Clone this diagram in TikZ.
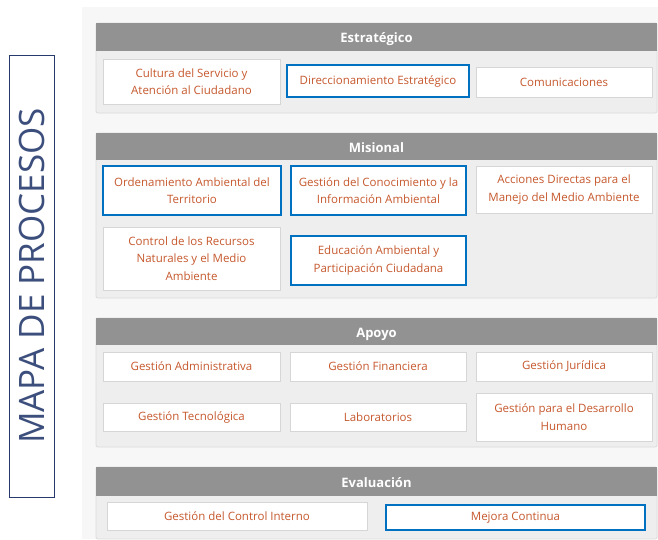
\documentclass[tikz,border=0pt]{standalone}
\usepackage{fontspec}
\setmainfont{Open Sans}
\usetikzlibrary{positioning}
\definecolor{procorange}{RGB}{198,88,45}
\definecolor{procblue}{RGB}{0,112,192}
\definecolor{headgray}{RGB}{146,146,146}
\definecolor{bodygray}{RGB}{238,238,238}
\definecolor{panelgray}{RGB}{247,247,247}
\definecolor{titlenavy}{RGB}{38,58,110}
\tikzset{
  pbox/.style={rectangle, draw=black!16, fill=white, line width=0.8pt,
               text=procorange, align=center, inner sep=1pt,
               font=\fontsize{11.5}{17.5}\selectfont},
  pboxsel/.style={pbox, draw=procblue, line width=2pt},
  grpbody/.style={rectangle, draw=black!14, fill=bodygray, line width=0.8pt,
                  rounded corners=2pt, minimum width=561},
  grphead/.style={rectangle, fill=headgray, text=white, minimum width=561,
                  minimum height=28, inner sep=0pt, text height=12pt,
                  text depth=0pt, font=\fontsize{13}{15}\selectfont\bfseries},
  maptitle/.style={rectangle, draw=titlenavy, line width=1pt, text=titlenavy,
                   minimum width=45, minimum height=442, inner sep=0pt},
}
\begin{document}
\begin{tikzpicture}[x=1pt, y=-1pt]
\useasboundingbox (0,0) rectangle (658,539);
\fill[panelgray] (82,7) rectangle (658,539);
% title
\node[maptitle] (mapa) at (31.5,276) {};
\node[rotate=90, text=titlenavy!90, font=\fontsize{35}{36}\selectfont]
  (mapatxt) at (mapa.center) {MAPA DE PROCESOS};
% groups
\node[grpbody, minimum height=90] (estr) at (376.5,68) {};
\node[grphead, anchor=north] (estrh) at (estr.north) {Estratégico};
\node[grpbody, minimum height=165] (misi) at (376.5,215.5) {};
\node[grphead, anchor=north, minimum height=27] (misih) at (misi.north) {Misional};
\node[grpbody, minimum height=129] (apoy) at (376.5,382.5) {};
\node[grphead, anchor=north, minimum height=27] (apoyh) at (apoy.north) {Apoyo};
\node[grpbody, minimum height=72] (eval) at (376.5,503) {};
\node[grphead, anchor=north, minimum height=29] (evalh) at (eval.north) {Evaluación};
% Estrategico
\node[pbox, minimum width=177, minimum height=45] (cult) at (191.5,81.5)
  {Cultura del Servicio y\\Atención al Ciudadano};
\node[pboxsel, minimum width=182, minimum height=32] (direc) at (378,81)
  {Direccionamiento Estratégico};
\node[pbox, minimum width=176, minimum height=30] (comu) at (564,82)
  {Comunicaciones};
% Misional
\node[pboxsel, minimum width=178, minimum height=49] (orden) at (192,190.5)
  {Ordenamiento Ambiental del\\Territorio};
\node[pboxsel, minimum width=175, minimum height=49] (gcono) at (378.5,190.5)
  {Gestión del Conocimiento y la\\Información Ambiental};
\node[pbox, minimum width=176, minimum height=47] (accio) at (564,189.5)
  {Acciones Directas para el\\Manejo del Medio Ambiente};
\node[pbox, minimum width=177, minimum height=63] (ctrl) at (191.5,258.5)
  {Control de los Recursos\\Naturales y el Medio\\Ambiente};
\node[pboxsel, minimum width=175, minimum height=49] (educ) at (378.5,260.5)
  {Educación Ambiental y\\Participación Ciudadana};
% Apoyo
\node[pbox, minimum width=177, minimum height=29] (gadm) at (191.5,366.5)
  {Gestión Administrativa};
\node[pbox, minimum width=176, minimum height=29] (gfin) at (378,366.5)
  {Gestión Financiera};
\node[pbox, minimum width=176, minimum height=29] (gjur) at (564,366.5)
  {Gestión Jurídica};
\node[pbox, minimum width=177, minimum height=28] (gtec) at (191.5,417)
  {Gestión Tecnológica};
\node[pbox, minimum width=176, minimum height=28] (labo) at (378,417)
  {Laboratorios};
\node[pbox, minimum width=176, minimum height=48] (gdh) at (564,417)
  {Gestión para el Desarrollo\\Humano};
% Evaluacion
\node[pbox, minimum width=260, minimum height=28] (gci) at (237,516)
  {Gestión del Control Interno};
\node[pboxsel, minimum width=259, minimum height=25] (mejo) at (515.5,517.5)
  {Mejora Continua};
\end{tikzpicture}
\end{document}
